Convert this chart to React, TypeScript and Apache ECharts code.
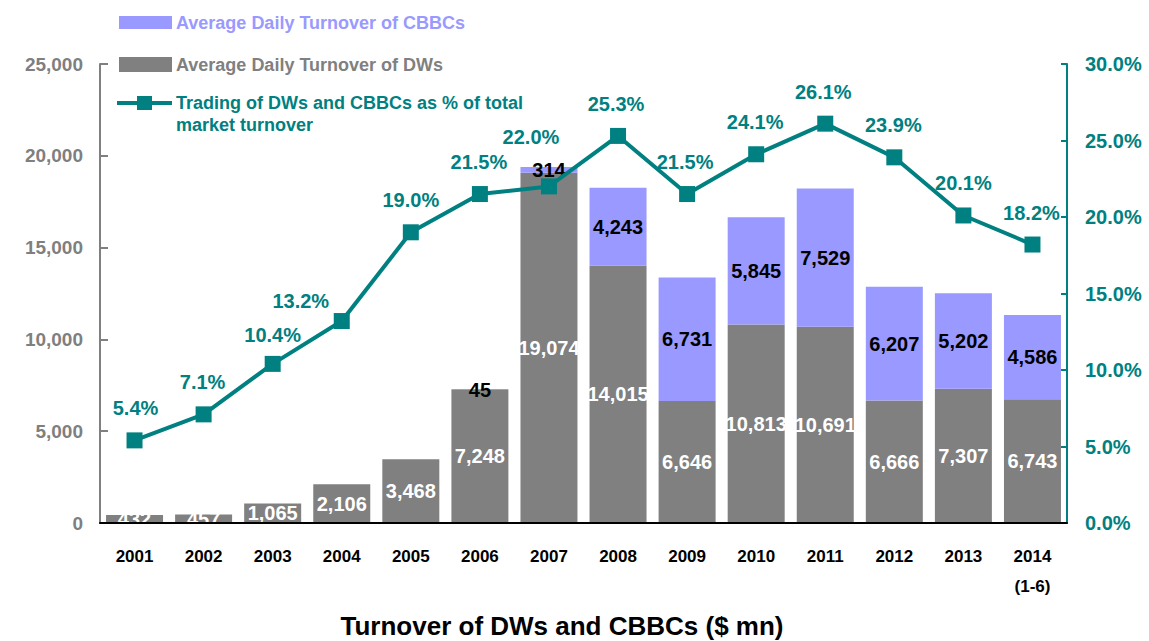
import React, { useEffect, useRef } from "react";
import * as echarts from "echarts";

const categories = ["2001", "2002", "2003", "2004", "2005", "2006", "2007", "2008", "2009", "2010", "2011", "2012", "2013", "2014\n(1-6)"];
const dwTurnover = [432, 457, 1065, 2106, 3468, 7248, 19074, 14015, 6646, 10813, 10691, 6666, 7307, 6743];
const cbbcTurnover: (number | null)[] = [null, null, null, null, null, 45, 314, 4243, 6731, 5845, 7529, 6207, 5202, 4586];
const pctOfMarket = [5.4, 7.1, 10.4, 13.2, 19.0, 21.5, 22.0, 25.3, 21.5, 24.1, 26.1, 23.9, 20.1, 18.2];
const leftTicks = { min: 0, max: 25000, interval: 5000 };
const rightTicks = { min: 0, max: 30, interval: 5 };

const NAME_CBBC = "Average Daily Turnover of CBBCs";
const NAME_DW = "Average Daily Turnover of DWs";
const NAME_PCT_1 = "Trading of DWs and CBBCs as % of total";
const NAME_PCT_2 = "market turnover";
const TITLE = "Turnover of DWs and CBBCs ($ mn)";

// label nudges (layout only)
const pctLabelNudge: [number, number][] = [
  [1, 0], [-1, 0], [0, 3], [-41, 12], [0, 0], [-1, 0], [-18, -17],
  [-2, 0], [-2, 0], [-1, 0], [-2, 0], [-1, 0], [0, 0], [-1, 0],
];

const FONT = "'Liberation Sans', Arial, sans-serif";
const TEAL = "#008080";
const GRAY = "#808080";
const LAV = "#9999ff";

const fmt = (v: number) => v.toLocaleString("en-US");

export default function App() {
  const ref = useRef<HTMLDivElement>(null);
  useEffect(() => {
    if (!ref.current) return;
    const chart = echarts.init(ref.current, undefined, { renderer: "svg" });
    chart.setOption({
      animation: false,
      backgroundColor: "#ffffff",
      textStyle: { fontFamily: FONT },
      grid: { left: 100, right: 82, top: 64, bottom: 118, containLabel: false },
      xAxis: {
        type: "category",
        data: categories,
        z: 10,
        axisLine: { lineStyle: { color: "#000", width: 2 } },
        axisTick: { inside: true, length: 8, lineStyle: { color: "#000", width: 2 } },
        axisLabel: {
          fontFamily: FONT, fontSize: 17, fontWeight: "bold", color: "#000",
          margin: 18, lineHeight: 30, interval: 0,
        },
      },
      yAxis: [
        {
          type: "value",
          min: leftTicks.min, max: leftTicks.max, interval: leftTicks.interval,
          splitLine: { show: false },
          axisLine: { show: true, lineStyle: { color: GRAY, width: 2 } },
          axisTick: { show: true, inside: true, length: 8, lineStyle: { color: GRAY, width: 2 } },
          axisLabel: {
            fontFamily: FONT, fontSize: 19, fontWeight: "bold", color: "#7f7f7f",
            margin: 17, formatter: (v: number) => fmt(v),
          },
        },
        {
          type: "value",
          min: rightTicks.min, max: rightTicks.max, interval: rightTicks.interval,
          position: "right",
          splitLine: { show: false },
          axisLine: { show: true, lineStyle: { color: TEAL, width: 2 } },
          axisTick: { show: true, inside: true, length: 6, lineStyle: { color: TEAL, width: 2 } },
          axisLabel: {
            fontFamily: FONT, fontSize: 20, fontWeight: "bold", color: TEAL,
            margin: 18, formatter: (v: number) => v.toFixed(1) + "%",
          },
        },
      ],
      series: [
        {
          name: NAME_DW,
          type: "bar",
          stack: "total",
          barWidth: 57,
          data: dwTurnover,
          itemStyle: { color: GRAY },
          label: {
            show: true, position: "inside", fontFamily: FONT, fontSize: 20, fontWeight: "bold",
            color: "#ffffff", formatter: (p: any) => fmt(p.value),
          },
        },
        {
          name: NAME_CBBC,
          type: "bar",
          stack: "total",
          barWidth: 57,
          data: cbbcTurnover.map((v) => (v == null ? "-" : v)),
          itemStyle: { color: LAV },
          label: {
            show: true, position: "inside", fontFamily: FONT, fontSize: 20, fontWeight: "bold",
            color: "#000000", formatter: (p: any) => fmt(p.value),
          },
        },
        {
          name: NAME_PCT_1 + " " + NAME_PCT_2,
          type: "line",
          yAxisIndex: 1,
          z: 5,
          symbol: "rect",
          symbolSize: 16,
          lineStyle: { color: TEAL, width: 4 },
          itemStyle: { color: TEAL },
          data: pctOfMarket.map((v, i) => ({ value: v, label: { offset: pctLabelNudge[i] } })),
          label: {
            show: true, position: "top", distance: 14, fontFamily: FONT, fontSize: 20,
            fontWeight: "bold", color: TEAL, formatter: (p: any) => Number(p.value).toFixed(1) + "%",
          },
        },
      ],
      graphic: [
        { type: "rect", z: 20, shape: { x: 119, y: 16, width: 53, height: 13 }, style: { fill: LAV } },
        { type: "text", x: 176, y: 22.5, z: 20, style: { text: NAME_CBBC, fill: LAV, font: `bold 18px ${FONT}`, textVerticalAlign: "middle" } },
        { type: "rect", z: 20, shape: { x: 119, y: 57, width: 53, height: 15 }, style: { fill: GRAY } },
        { type: "text", x: 176, y: 64.5, z: 20, style: { text: NAME_DW, fill: GRAY, font: `bold 18px ${FONT}`, textVerticalAlign: "middle" } },
        { type: "line", z: 20, shape: { x1: 117, y1: 103, x2: 172, y2: 103 }, style: { stroke: TEAL, lineWidth: 4 } },
        { type: "rect", z: 21, shape: { x: 137, y: 96, width: 15, height: 14 }, style: { fill: TEAL } },
        { type: "text", x: 176, y: 103, z: 20, style: { text: NAME_PCT_1, fill: TEAL, font: `bold 18px ${FONT}`, textVerticalAlign: "middle" } },
        { type: "text", x: 176, y: 125, z: 20, style: { text: NAME_PCT_2, fill: TEAL, font: `bold 18px ${FONT}`, textVerticalAlign: "middle" } },
        { type: "text", x: 562, y: 626, z: 20, style: { text: TITLE, fill: "#000", font: `bold 26px ${FONT}`, textAlign: "center", textVerticalAlign: "middle" } },
      ],
    });
    return () => chart.dispose();
  }, []);
  return <div ref={ref} style={{ position: "absolute", left: 0, top: 0, width: 1149, height: 641 }} />;
}
